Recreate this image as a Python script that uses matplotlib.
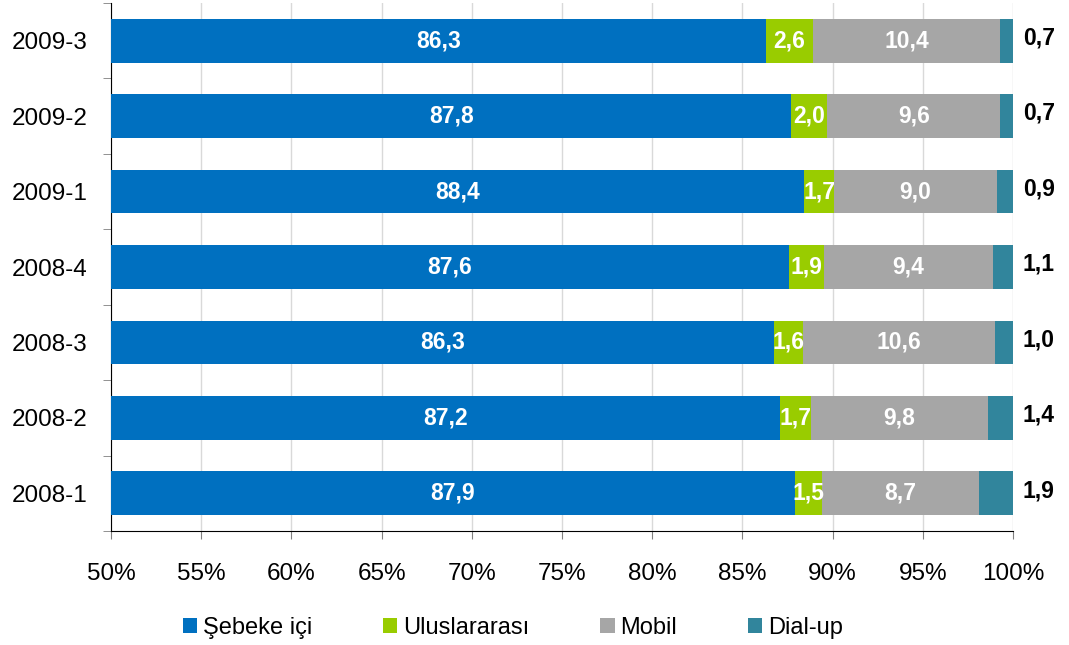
import numpy as np
import matplotlib.pyplot as plt
from matplotlib.ticker import FixedLocator, FuncFormatter

plt.rcParams['font.family'] = ['Liberation Sans', 'DejaVu Sans']

quarters = ['2008-1', '2008-2', '2008-3', '2008-4', '2009-1', '2009-2', '2009-3']
sebeke = [87.9, 87.2, 86.3, 87.6, 88.4, 87.8, 86.3]
ulus = [1.5, 1.7, 1.6, 1.9, 1.7, 2.0, 2.6]
mobil = [8.7, 9.8, 10.6, 9.4, 9.0, 9.6, 10.4]
dialup = [1.9, 1.4, 1.0, 1.1, 0.9, 0.7, 0.7]

names = ['Şebeke içi', 'Uluslararası', 'Mobil', 'Dial-up']
colors = ['#0070C0', '#99CC00', '#A6A6A6', '#31859C']

raw = np.array([sebeke, ulus, mobil, dialup])
share = raw / raw.sum(axis=0) * 100  # 100% stacked

fig = plt.figure(figsize=(10.69, 6.45), dpi=100)
ax = fig.add_axes([0.1038, 0.1767, 0.8438, 0.8186])

y = np.arange(len(quarters))
left = np.zeros(len(quarters))
for i in range(4):
    ax.barh(y, share[i], left=left, height=0.58, color=colors[i],
            label=names[i], zorder=3)
    for j in range(len(quarters)):
        txt = f'{raw[i][j]:.1f}'.replace('.', ',')
        if i == 3:
            ax.annotate(txt, (100, y[j]), xytext=(7, 2), textcoords='offset points',
                        ha='left', va='center', fontsize=16.5, fontweight='bold',
                        color='black', annotation_clip=False)
        else:
            lo = max(left[j], 50)
            cx = (lo + left[j] + share[i][j]) / 2
            ax.text(cx, y[j], txt, ha='center', va='center', fontsize=16.5,
                    fontweight='bold', color='white', zorder=4)
    left += share[i]

ax.set_xlim(50, 100)
ax.set_ylim(-0.5, len(quarters) - 0.5)
ax.set_xticks(np.arange(50, 101, 5))
ax.xaxis.set_major_formatter(FuncFormatter(lambda v, p: f'{v:.0f}%'))
ax.set_yticks(y)
ax.set_yticklabels(quarters)
ax.yaxis.set_minor_locator(FixedLocator(np.arange(-0.5, len(quarters), 1)))
ax.tick_params(axis='y', which='major', length=0, pad=17, labelsize=17.5)
ax.tick_params(axis='y', which='minor', length=6, color='#808080')
ax.tick_params(axis='x', length=6, pad=17, labelsize=17.5, color='#808080')
ax.grid(axis='x', color='#D9D9D9', linewidth=1, zorder=0)
for s in ['top', 'right']:
    ax.spines[s].set_visible(False)
ax.spines['left'].set_color('black')
ax.spines['bottom'].set_color('black')

fig.legend(loc='center', bbox_to_anchor=(0.48, 0.026), ncol=4, frameon=False,
           fontsize=17, handlelength=0.6, handleheight=0.6, handletextpad=0.25,
           columnspacing=3.0)

fig.savefig('out.png', dpi=100)
